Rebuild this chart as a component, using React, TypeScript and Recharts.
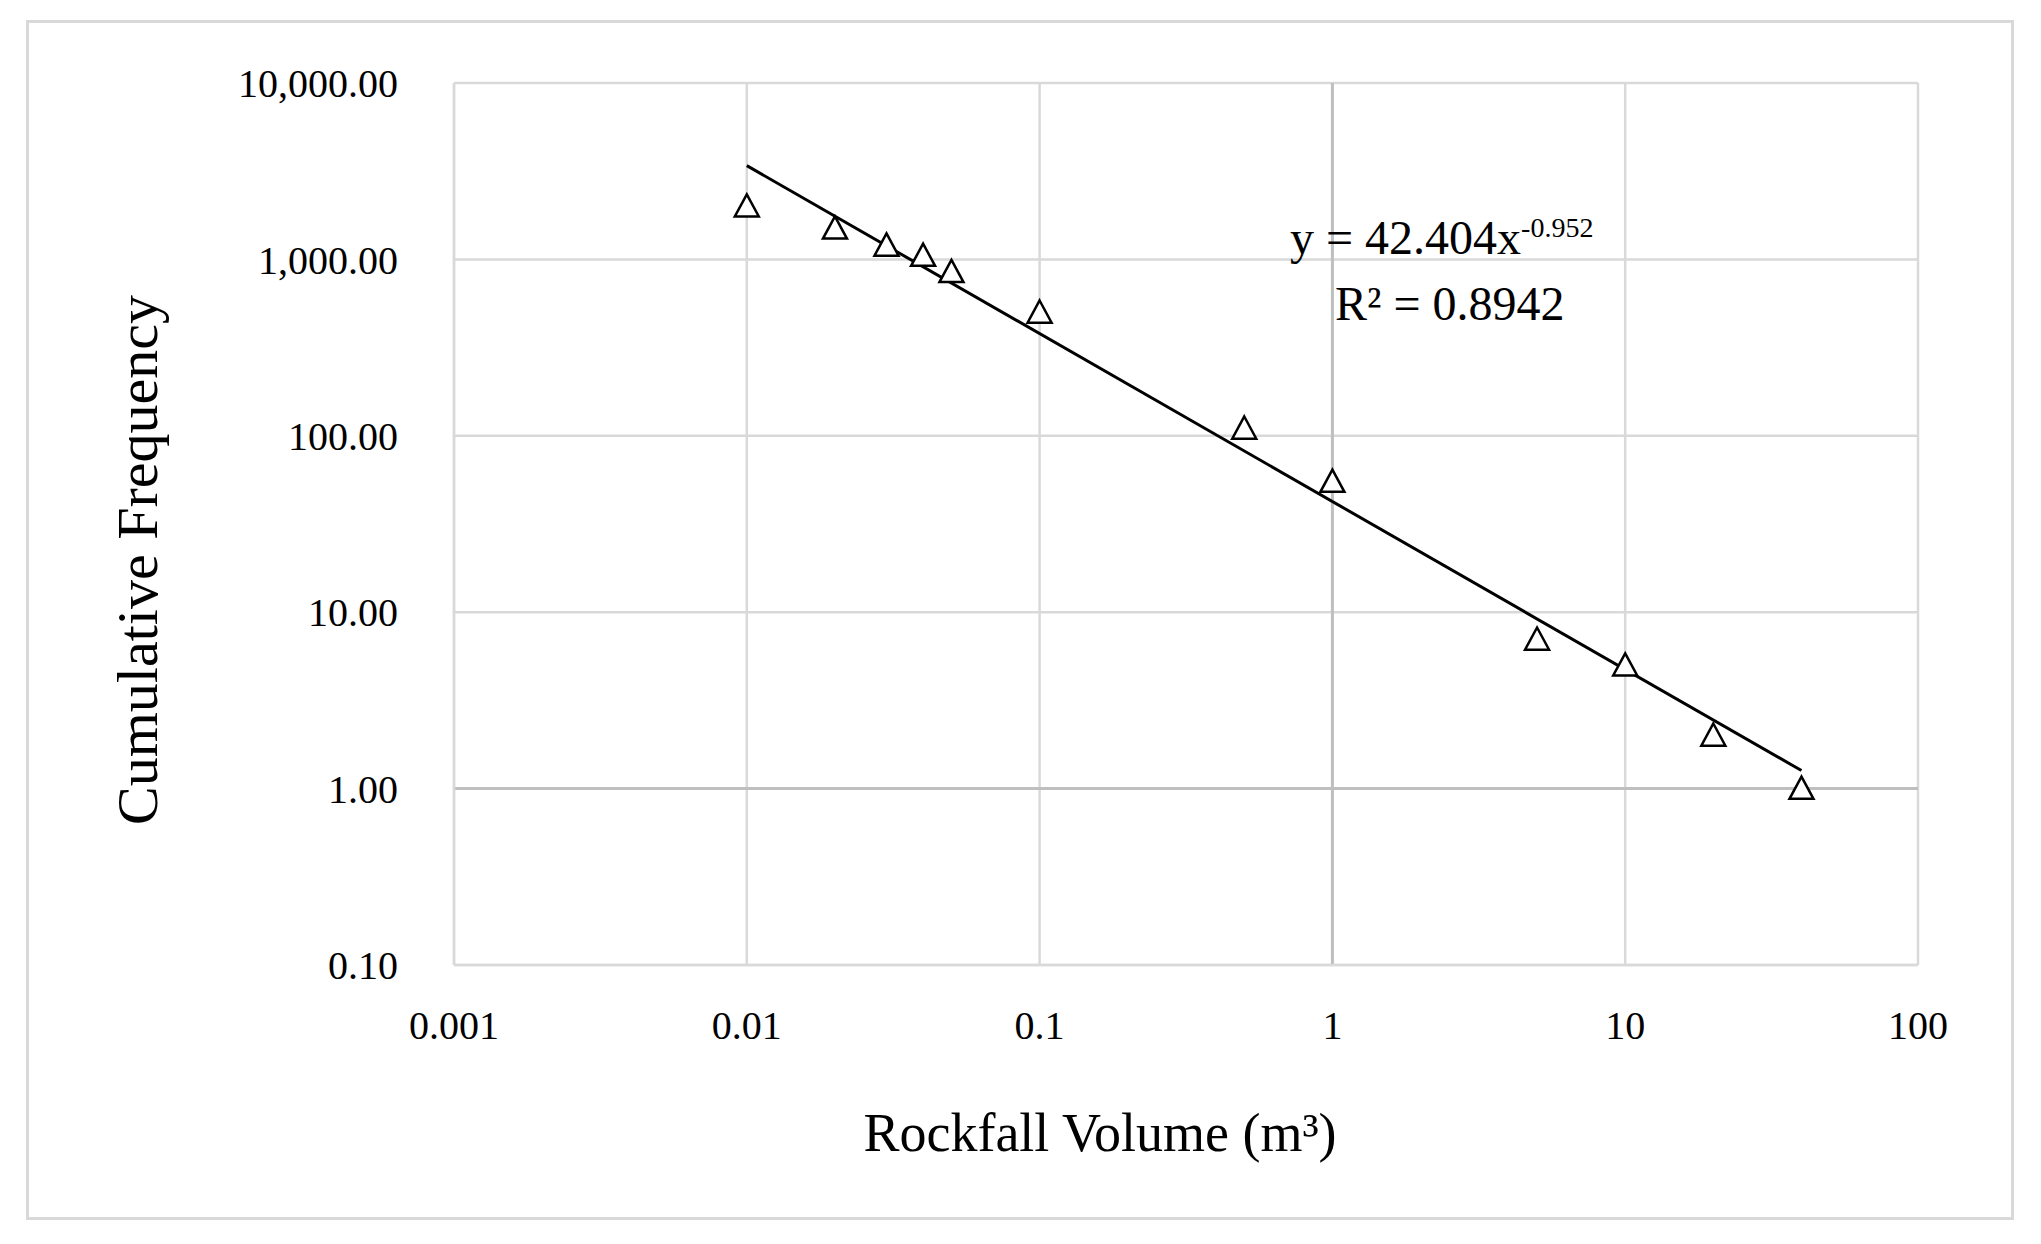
import React from 'react';
import { ScatterChart, Scatter, XAxis, YAxis, CartesianGrid, ReferenceLine } from 'recharts';

const volumes = [0.01, 0.02, 0.03, 0.04, 0.05, 0.1, 0.5, 1, 5, 10, 20, 40];
const frequencies = [2000, 1500, 1200, 1050, 850, 500, 110, 55, 7, 5, 2, 1];
const xTicks = [0.001, 0.01, 0.1, 1, 10, 100];
const yTicks = [0.1, 1, 10, 100, 1000, 10000];
const trendA = 42.404;
const trendB = -0.952;
const trendX = [0.01, 40];

const points = volumes.map((x, i) => ({ x, y: frequencies[i] }));
const trend = trendX.map((x) => ({ x, y: trendA * Math.pow(x, trendB) }));

const Tri = (props: any) => {
  const { cx, cy } = props;
  const s = 12;
  return (
    <path
      d={`M${cx},${cy - s} L${cx + s},${cy + s * 0.85} L${cx - s},${cy + s * 0.85} Z`}
      fill="#fff"
      stroke="#000"
      strokeWidth={2.5}
    />
  );
};

const font = '"Liberation Serif", "DejaVu Serif", serif';

export default function App() {
  return (
    <div style={{ position: 'absolute', left: 0, top: 0, width: 2041, height: 1244, background: '#fff', fontFamily: font }}>
      <div style={{ position: 'absolute', left: 26, top: 20, width: 1982, height: 1194, border: '3px solid #d9d9d9' }} />
      <ScatterChart width={2041} height={1244} margin={{ top: 83, right: 123, bottom: 129, left: 254 }}>
        <CartesianGrid stroke="#d9d9d9" strokeWidth={2.5} />
        <XAxis
          type="number"
          dataKey="x"
          scale="log"
          domain={[0.001, 100]}
          ticks={xTicks}
          allowDataOverflow
          height={150}
          tickLine={false}
          axisLine={{ stroke: '#d9d9d9', strokeWidth: 2.5 }}
          tickMargin={40}
          tick={{ fill: '#000', fontSize: 40, fontFamily: font }}
          tickFormatter={(v: number) => String(v)}
        />
        <YAxis
          type="number"
          dataKey="y"
          scale="log"
          domain={[0.1, 10000]}
          ticks={yTicks}
          allowDataOverflow
          width={200}
          tickLine={false}
          axisLine={{ stroke: '#d9d9d9', strokeWidth: 2.5 }}
          tickMargin={50}
          tick={{ fill: '#000', fontSize: 40, fontFamily: font }}
          tickFormatter={(v: number) => v.toLocaleString('en-US', { minimumFractionDigits: 2, maximumFractionDigits: 2 })}
        />
        <ReferenceLine y={1} stroke="#bfbfbf" strokeWidth={3} />
        <ReferenceLine x={1} stroke="#bfbfbf" strokeWidth={3} />
        <Scatter data={trend} line={{ stroke: '#000', strokeWidth: 3 }} shape={() => null} isAnimationActive={false} />
        <Scatter data={points} shape={Tri} isAnimationActive={false} />
      </ScatterChart>
      <div style={{ position: 'absolute', left: 1290, top: 210, fontSize: 48, color: '#000', whiteSpace: 'nowrap' }}>
        y = 42.404x<sup style={{ fontSize: 28 }}>-0.952</sup>
      </div>
      <div style={{ position: 'absolute', left: 1335, top: 276, fontSize: 48, color: '#000', whiteSpace: 'nowrap' }}>
        R² = 0.8942
      </div>
      <div style={{ position: 'absolute', left: 1100, top: 1133, transform: 'translate(-50%, -50%)', fontSize: 54, color: '#000', whiteSpace: 'nowrap' }}>
        Rockfall Volume (m³)
      </div>
      <div style={{ position: 'absolute', left: 137, top: 560, transform: 'translate(-50%, -50%) rotate(-90deg)', fontSize: 58, color: '#000', whiteSpace: 'nowrap' }}>
        Cumulative Frequency
      </div>
    </div>
  );
}
